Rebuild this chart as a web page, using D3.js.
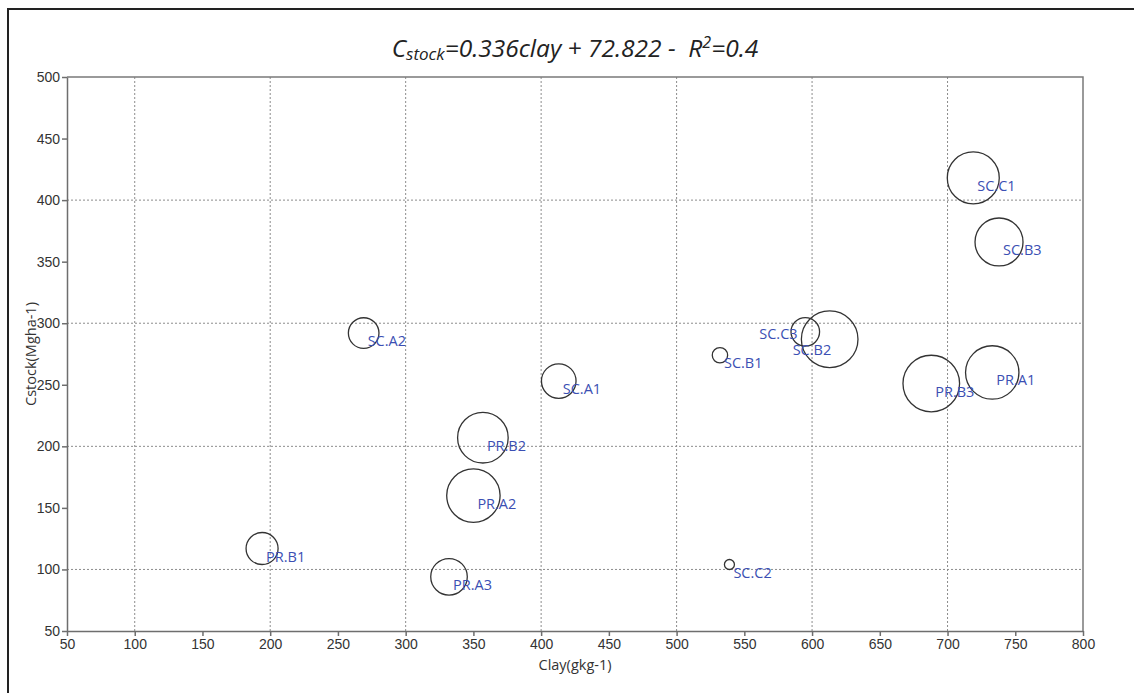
<!DOCTYPE html>
<html>
<head>
<meta charset="utf-8">
<script src="https://cdn.jsdelivr.net/npm/d3@7"></script>
<style>
  body { margin: 0; background: #fff; }
  svg { display: block; font-family: "Open Sans", "Noto Sans", sans-serif; }
  .grid line { stroke: #8c8c8c; stroke-dasharray: 2,2; stroke-width: 1; }
  .axis path, .axis line { stroke: #6e6e6e; stroke-width: 1.5; }
  .axis text { fill: #333; font-size: 14px; }
  .bubble { fill: none; stroke: #333; stroke-width: 1.3; }
  .lbl { fill: #3b4fb3; font-size: 14.5px; }
</style>
</head>
<body>
<div class="chart"></div>
<script>
// bubble data
const names = ["SC.C1", "SC.B3", "SC.C3", "SC.B2", "SC.B1", "PR.B3", "PR.A1",
  "SC.A1", "SC.A2", "PR.B2", "PR.A2", "PR.B1", "PR.A3", "SC.C2"];
const clay = [719, 738, 595, 613, 532, 688, 733, 413, 269, 357, 350, 194, 332, 539];
const cstock = [418, 366, 293, 287, 274, 251, 260, 253, 292, 207, 160, 117, 94, 104];
const sizes = [675, 575, 204, 800, 59, 800, 712, 299, 234, 639, 712, 256, 334, 25];

const xTicks = d3.range(50, 801, 50);
const yTicks = d3.range(50, 501, 50);
const gridX = [100, 200, 300, 400, 500, 600, 700];
const gridY = [100, 200, 300, 400];

// a couple of labels are nudged off their bubble to avoid overlap
const nudge = { "SC.C3": [-50, -6], "SC.B2": [-41, 3] };

const data = names.map((n, i) => ({ name: n, x: clay[i], y: cstock[i], s: sizes[i] }));

const W = 1134, H = 693;
const margin = { top: 77, right: 51, bottom: 62, left: 67 };
const width = W - margin.left - margin.right,
  height = H - margin.top - margin.bottom;

const root = d3.select(".chart").append("svg")
  .attr("width", W)
  .attr("height", H);

// outer frame (only left and top edges show in the crop)
root.append("path")
  .attr("d", `M8,${H} V9 H${W}`)
  .attr("fill", "none")
  .attr("stroke", "#222")
  .attr("stroke-width", 2);

const svg = root.append("g")
  .attr("transform", `translate(${margin.left},${margin.top})`);

const x = d3.scaleLinear().domain([50, 800]).range([0, width]);
const y = d3.scaleLinear().domain([50, 500]).range([height, 0]);
const r = d3.scaleSqrt().domain([0, 800]).range([0, 28.3]);

// grid
const grid = svg.append("g").attr("class", "grid");
grid.selectAll(".gx").data(gridX).enter().append("line")
  .attr("x1", d => x(d)).attr("x2", d => x(d))
  .attr("y1", 0).attr("y2", height);
grid.selectAll(".gy").data(gridY).enter().append("line")
  .attr("y1", d => y(d)).attr("y2", d => y(d))
  .attr("x1", 0).attr("x2", width);

// box (top and right)
svg.append("path")
  .attr("d", `M0,0 H${width} V${height}`)
  .attr("fill", "none")
  .attr("stroke", "#7a7a7a")
  .attr("stroke-width", 1.5);

const xAxis = d3.axisBottom(x).tickValues(xTicks).tickSize(5).tickSizeOuter(0).tickPadding(3);
const yAxis = d3.axisLeft(y).tickValues(yTicks).tickSize(5).tickSizeOuter(0).tickPadding(2);

svg.append("g")
  .attr("class", "axis x-axis")
  .attr("transform", `translate(0,${height})`)
  .call(xAxis);

svg.append("g")
  .attr("class", "axis y-axis")
  .call(yAxis);

svg.selectAll(".axis .tick line").attr("stroke-width", 1.2);

// axis titles
svg.append("text")
  .attr("x", width / 2)
  .attr("y", height + 39)
  .attr("text-anchor", "middle")
  .style("font-size", "14.5px")
  .style("fill", "#333")
  .text("Clay(gkg-1)");

svg.append("text")
  .attr("transform", `translate(${32 - margin.left},${height / 2}) rotate(-90)`)
  .attr("text-anchor", "middle")
  .attr("dominant-baseline", "middle")
  .style("font-size", "14.5px")
  .style("fill", "#333")
  .text("Cstock(Mgha-1)");

// title
const title = svg.append("text")
  .attr("x", width / 2)
  .attr("y", -20)
  .attr("text-anchor", "middle")
  .style("font-size", "24.5px")
  .style("font-style", "italic")
  .style("fill", "#222");
title.append("tspan").text("C");
title.append("tspan").attr("dy", 3).style("font-size", "17px").text("stock");
title.append("tspan").attr("dy", -3).text("=0.336clay + 72.822 -\u00a0 R");
title.append("tspan").attr("dy", -9).style("font-size", "16px").text("2");
title.append("tspan").attr("dy", 9).text("=0.4");

// bubbles
svg.selectAll(".bubble").data(data).enter().append("circle")
  .attr("class", "bubble")
  .attr("cx", d => x(d.x))
  .attr("cy", d => y(d.y))
  .attr("r", d => r(d.s));

svg.selectAll(".lbl").data(data).enter().append("text")
  .attr("class", "lbl")
  .attr("x", d => x(d.x) + 4 + (nudge[d.name] ? nudge[d.name][0] : 0))
  .attr("y", d => y(d.y) + 13 + (nudge[d.name] ? nudge[d.name][1] : 0))
  .text(d => d.name);
</script>
</body>
</html>
